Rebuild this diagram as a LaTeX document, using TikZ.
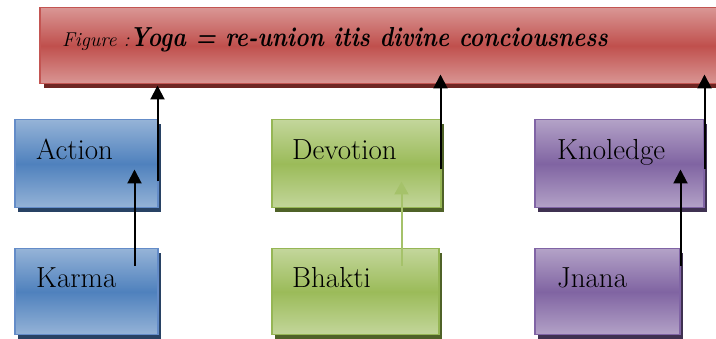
\documentclass[tikz,border=0pt]{standalone}
\usepackage{fontspec}
\usetikzlibrary{shadows,arrows.meta}
\definecolor{blueM}{RGB}{79,129,189}
\definecolor{blueL}{RGB}{149,179,215}
\definecolor{blueB}{RGB}{100,140,200}
\definecolor{blueS}{RGB}{40,66,100}
\definecolor{greenM}{RGB}{155,187,89}
\definecolor{greenL}{RGB}{195,214,155}
\definecolor{greenB}{RGB}{150,182,85}
\definecolor{greenS}{RGB}{79,98,40}
\definecolor{purpM}{RGB}{128,100,162}
\definecolor{purpL}{RGB}{179,162,199}
\definecolor{purpB}{RGB}{128,100,165}
\definecolor{purpS}{RGB}{63,49,81}
\definecolor{redM}{RGB}{192,80,77}
\definecolor{redL}{RGB}{217,150,148}
\definecolor{redB}{RGB}{195,85,82}
\definecolor{redS}{RGB}{110,38,35}
\tikzset{
  box/.style={rectangle, anchor=north west, line width=1.5pt, inner sep=0pt},
  bluebox/.style={box, draw=blueB, top color=blueL, bottom color=blueL, middle color=blueM,
    general shadow={shadow xshift=3pt, shadow yshift=-4pt, fill=blueS}},
  greenbox/.style={box, draw=greenB, top color=greenL, bottom color=greenL, middle color=greenM,
    general shadow={shadow xshift=3pt, shadow yshift=-4pt, fill=greenS}},
  purpbox/.style={box, draw=purpB, top color=purpL, bottom color=purpL, middle color=purpM,
    general shadow={shadow xshift=3pt, shadow yshift=-4pt, fill=purpS}},
  redbox/.style={box, draw=redB, top color=redL, bottom color=redL, middle color=redM,
    general shadow={shadow xshift=4pt, shadow yshift=-4pt, fill=redS}},
  lbl/.style={anchor=base west, inner sep=0pt, font=\fontsize{29}{34}\selectfont},
  arr/.style={line width=2pt, -{Triangle[length=14pt,width=14pt]}},
  garr/.style={line width=2pt, draw=greenM!90!white, -{Triangle[length=13pt,width=14pt]}},
}
\begin{document}
\begin{tikzpicture}[x=1pt,y=-1pt]
\useasboundingbox (0,0) rectangle (716,339);
\clip (0,0) rectangle (716,339);
% title bar
\node[redbox, minimum width=700pt, minimum height=76pt] (yoga) at (39,7) {};
\node[anchor=base west, inner sep=0pt] (title) at (62,47)
  {{\fontsize{20}{22}\selectfont\itshape Figure :}\scalebox{0.84}[1]{\fontsize{27.5}{30}\selectfont\bfseries\itshape Yoga = re-union itis divine conciousness}};
% boxes
\node[bluebox, minimum width=143pt, minimum height=88pt] (action) at (14,119) {};
\node[bluebox, minimum width=143pt, minimum height=86pt] (karma) at (14,248) {};
\node[greenbox, minimum width=169pt, minimum height=88pt] (devotion) at (271,119) {};
\node[greenbox, minimum width=167pt, minimum height=86pt] (bhakti) at (271,248) {};
\node[purpbox, minimum width=169pt, minimum height=88pt] (knowledge) at (534,119) {};
\node[purpbox, minimum width=145pt, minimum height=86pt] (jnana) at (534,248) {};
% labels
\node[lbl] (tAction) at (36,160) {Action};
\node[lbl] (tKarma) at (36,288) {Karma};
\node[lbl] (tDevotion) at (292,160) {Devotion};
\node[lbl] (tBhakti) at (292,288) {Bhakti};
\node[lbl] (tKnow) at (557,160) {Knoledge};
\node[lbl] (tJnana) at (557,288) {Jnana};
% connector start points
\coordinate (a1) at ([shift={(-1,-27)}]action.south east);
\coordinate (a2) at ([shift={(-1,-39)}]devotion.south east);
\coordinate (a3) at ([shift={(0,-39)}]knowledge.south east);
\coordinate (k1) at ([shift={(-24,18)}]karma.north east);
\coordinate (b1) at ([shift={(-38,18)}]bhakti.north east);
\coordinate (j1) at ([shift={(0,18)}]jnana.north east);
% connectors
\draw[arr] (a1) -- ([yshift=-1pt]a1 |- yoga.south);
\draw[arr] (a2) -- ([yshift=10pt]a2 |- yoga.south);
\draw[arr] (a3) -- ([yshift=10pt]a3 |- yoga.south);
\draw[arr] (k1) -- ([yshift=39pt]k1 |- action.south);
\draw[garr] (b1) -- ([yshift=27pt]b1 |- devotion.south);
\draw[arr] (j1) -- ([yshift=39pt]j1 |- knowledge.south);
\end{tikzpicture}
\end{document}
